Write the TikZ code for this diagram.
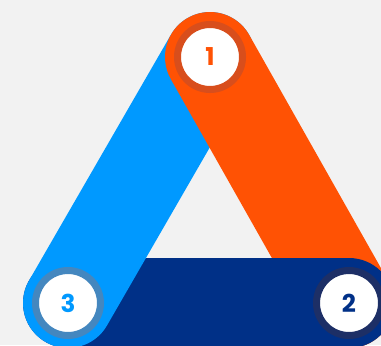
\documentclass[tikz,border=0pt]{standalone}
\usepackage{fontspec}
\setsansfont{Poppins}
\usepackage{tikz}
\definecolor{bggray}{HTML}{F2F2F2}
\definecolor{bandorange}{HTML}{FF5204}
\definecolor{bandlight}{HTML}{0099FF}
\definecolor{banddark}{HTML}{003087}
\definecolor{ringorange}{HTML}{D84E1C}
\definecolor{ringlight}{HTML}{4487BF}
\definecolor{ringdark}{HTML}{1D2F66}

\begin{document}
\begin{tikzpicture}[
  x=0.02cm, y=-0.02cm,
  band/.style={line width=1.8cm, line cap=round},
  marker/.style={circle, draw, line width=0.14cm, fill=white,
    minimum size=1.3cm, inner sep=0pt,
    font=\sffamily\bfseries\fontsize{14}{14}\selectfont}
]
  % Background
  \fill[bggray] (0,0) rectangle (381,345);
  \useasboundingbox (0,0) rectangle (381,345);

  % Corners
  \coordinate (c1) at (210,57);
  \coordinate (c2) at (349,303);
  \coordinate (c3) at (68,303);

  % Bands
  \draw[band, banddark] (c3) -- (c2);
  \draw[band, bandlight] (c3) -- (c1);
  \draw[band, bandorange] (c1) -- (c2);

  % dark band lies over the orange one at corner 2
  \begin{scope}
    \clip (250,240) rectangle (400,360);
    \draw[band, banddark] (c3) -- (c2);
  \end{scope}

  % Markers
  \foreach \i/\ring/\txt in {1/ringorange/bandorange, 2/ringdark/banddark, 3/ringlight/bandlight} {
    \node[marker, draw=\ring, text=\txt] (m\i) at (c\i) {\i};
  }
\end{tikzpicture}
\end{document}
